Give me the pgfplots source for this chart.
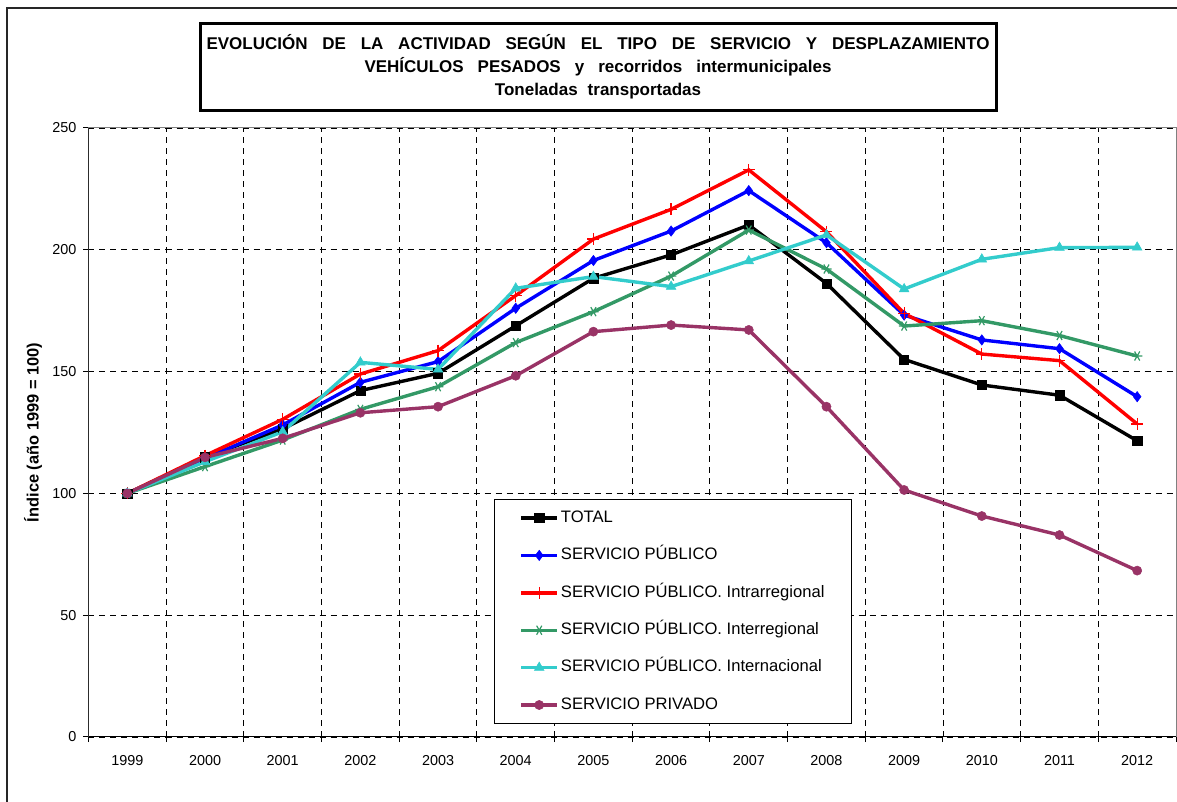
\documentclass[border=0pt]{standalone}
\usepackage{pgfplots}
\pgfplotsset{compat=1.18}
\usepackage{fontspec}
\setmainfont{Liberation Sans}
\definecolor{sgreen}{HTML}{339966}
\definecolor{sturq}{HTML}{33CCCC}
\definecolor{splum}{HTML}{993366}
\pgfplotstableread{
x total publico intra inter inter2 privado
0 100   100   100   100   100   100
1 114.8 114.3 115.5 111.0 113.0 114.8
2 126.5 128.1 130.4 121.9 125.3 122.6
3 142.2 145.6 149.0 134.5 153.8 133.1
4 149.3 154.1 158.6 143.8 150.9 135.6
5 168.8 176.0 181.2 161.9 184.2 148.3
6 188.3 195.6 204.4 174.6 189.0 166.4
7 197.9 207.7 216.6 189.2 184.9 169.1
8 210.2 224.3 232.8 208.1 195.4 167.1
9 186.2 202.9 207.4 192.1 206.1 135.6
10 155.0 173.2 173.9 168.7 183.9 101.4
11 144.5 163.0 157.2 170.9 196.1 90.7
12 140.3 159.4 154.5 164.8 200.9 82.9
13 121.6 139.7 128.5 156.4 201.0 68.3
}\datatable
\begin{document}
\begin{tikzpicture}[x=0.5pt,y=0.5pt]
\clip (0,0) rectangle (1177,802);
\draw[line width=0.75pt, black!85] (7,-20) -- (7,794) -- (1200,794);
\draw[line width=1.5pt] (200,691) rectangle (996,778);
\begin{scope}[every node/.style={anchor=base, inner sep=0pt, font=\fontsize{8.5}{10}\selectfont\bfseries}]
\node at (598,752) {\makebox[391.5pt][s]{EVOLUCIÓN DE LA ACTIVIDAD SEGÚN EL TIPO DE SERVICIO Y DESPLAZAMIENTO}};
\node at (598,729) {\spaceskip=7pt VEHÍCULOS PESADOS y recorridos intermunicipales};
\node at (598,706) {\spaceskip=5pt Toneladas transportadas};
\end{scope}
\begin{axis}[
  at={(44.25pt,32.5pt)}, anchor=south west,
  scale only axis, width=543.75pt, height=304.5pt,
  xmin=-0.5, xmax=13.5, ymin=0, ymax=250,
  ytick={0,50,...,250},
  xtick={-0.5,0.5,...,13.5}, xticklabels={},
  extra x ticks={0,...,13},
  extra x tick labels={1999,2000,2001,2002,2003,2004,2005,2006,2007,2008,2009,2010,2011,2012},
  extra x tick style={major tick length=0pt, grid=none},
  xticklabel style={yshift=-5.5pt},
  xmajorgrids, ymajorgrids,
  grid style={black, dash pattern=on 3pt off 2.5pt, line width=0.45pt},
  axis line style={gray, line width=0.5pt},
  tick align=outside, major tick length=2.5pt,
  tick style={black, line width=0.5pt},
  xtick pos=lower, ytick pos=left,
  ticklabel style={font=\fontsize{7.2}{8}\selectfont},
  /pgf/number format/assume math mode=true,
  ylabel={Índice (año 1999 = 100)},
  ylabel style={font=\fontsize{8.2}{9}\selectfont\bfseries, at={(axis description cs:-0.05103,0.5)}, anchor=center},
  legend style={at={(axis description cs:0.3729,0.3908)}, anchor=north west,
    draw=black, line width=0.5pt, fill=white,
    font=\fontsize{8.3}{9}\selectfont,
    inner xsep=12.5pt, inner ysep=5.5pt, row sep=11.2pt,
    nodes={inner xsep=1pt, inner ysep=0pt, text height=5.9pt, text depth=1.6pt}},
  legend cell align=left,
  legend image code/.code={\draw[mark repeat=2,mark phase=2,#1] plot coordinates {(0pt,0pt) (9pt,0pt) (18pt,0pt)};},
  every axis plot/.append style={line width=1.7pt},
]
\addplot[black, mark=square*, mark size=2.3pt, mark options={line width=0.25pt}] table[x=x,y=total] {\datatable};
\addlegendentry{TOTAL}
\addplot[blue, mark=diamond*, mark size=2.6pt, mark options={line width=0.25pt}] table[x=x,y=publico] {\datatable};
\addlegendentry{SERVICIO PÚBLICO}
\addplot[red, mark=+, mark size=3pt, mark options={line width=0.6pt}] table[x=x,y=intra] {\datatable};
\addlegendentry{SERVICIO PÚBLICO. Intrarregional}
\addplot[sgreen, mark=asterisk, mark size=2.6pt, mark options={line width=0.6pt, rotate=90}] table[x=x,y=inter] {\datatable};
\addlegendentry{SERVICIO PÚBLICO. Interregional}
\addplot[sturq, mark=triangle*, mark size=2.8pt, mark options={line width=0.25pt}] table[x=x,y=inter2] {\datatable};
\addlegendentry{SERVICIO PÚBLICO. Internacional}
\addplot[splum, mark=*, mark size=2.3pt, mark options={line width=0.25pt}] table[x=x,y=privado] {\datatable};
\addlegendentry{SERVICIO PRIVADO}
\draw[black, line width=0.75pt] (rel axis cs:0,1) -- (rel axis cs:0,0) -- (rel axis cs:1,0);
\end{axis}
\end{tikzpicture}
\end{document}
